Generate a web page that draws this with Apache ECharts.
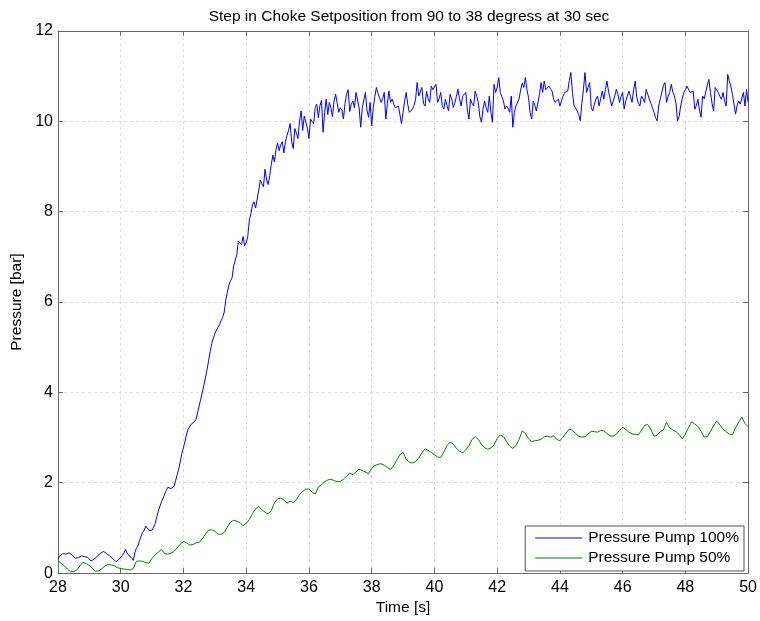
<!DOCTYPE html>
<html>
<head>
<meta charset="utf-8">
<script src="https://cdn.jsdelivr.net/npm/echarts@6/dist/echarts.min.js"></script>
<style>
  html, body { margin: 0; padding: 0; background: #fff; }
  #chart { width: 760px; height: 621px; }
</style>
</head>
<body>
<div id="chart"></div>
<script>
// Logged pressure after the choke step (time in seconds, pressure in bar)
const titleText = 'Step in Choke Setposition from 90 to 38 degress at 30 sec';
const xTicks = [28, 30, 32, 34, 36, 38, 40, 42, 44, 46, 48, 50];
const yTicks = [0, 2, 4, 6, 8, 10, 12];

// Pump at 100 %: sampled every 0.05 s from t = 28 s (one row per second)
const pump100Start = 28;
const pump100Step = 0.05;
const pump100 = [
  0.31,0.38,0.42,0.43,0.44,0.42,0.44,0.45,0.45,0.40,0.36,0.33,0.32,0.34,0.37,0.38,0.37,0.36,0.37,0.35,
  0.31,0.27,0.29,0.31,0.33,0.37,0.40,0.44,0.48,0.48,0.45,0.43,0.41,0.38,0.36,0.32,0.28,0.25,0.28,0.31,
  0.35,0.39,0.44,0.52,0.45,0.40,0.36,0.33,0.28,0.45,0.55,0.60,0.72,0.82,0.90,0.95,1.04,1.01,0.95,0.91,
  0.95,1.02,1.10,1.25,1.38,1.48,1.58,1.66,1.75,1.83,1.90,1.88,1.87,1.88,1.92,2.05,2.18,2.30,2.48,2.65,
  2.78,2.92,3.08,3.18,3.24,3.30,3.34,3.35,3.40,3.55,3.70,3.85,4.00,4.16,4.32,4.50,4.70,4.90,5.08,5.20,
  5.30,5.38,5.42,5.50,5.59,5.66,5.78,6.05,6.22,6.38,6.47,6.54,6.80,6.78,7.05,7.35,7.38,7.27,7.45,7.25,
  7.32,7.45,7.82,7.95,8.15,8.22,8.08,8.28,8.48,8.70,8.62,8.55,8.94,8.70,8.60,8.80,9.05,9.25,9.10,9.38,
  9.52,9.35,9.48,9.55,9.30,9.55,9.68,9.80,9.95,9.55,9.40,9.84,9.74,9.62,10.00,10.23,9.80,10.12,10.10,9.85,
  9.62,10.05,10.00,9.95,10.30,10.38,10.08,10.35,10.46,9.76,10.20,10.49,10.15,10.42,10.30,10.10,10.45,10.60,10.40,10.20,
  10.30,10.25,10.05,10.40,10.60,10.70,10.22,10.38,10.45,10.30,10.64,10.67,10.30,9.87,10.30,10.34,10.64,10.25,10.09,10.42,
  9.90,10.30,10.55,10.75,10.62,10.52,10.42,10.50,10.64,10.05,10.40,10.67,10.42,10.49,10.45,10.30,10.27,10.34,10.15,9.95,
  10.20,10.45,10.64,10.38,10.20,10.20,10.27,10.35,10.49,10.86,10.56,10.60,10.75,10.40,10.34,10.67,10.50,10.42,10.78,10.70,
  10.71,10.82,10.42,10.50,10.64,10.35,10.27,10.49,10.35,10.23,10.60,10.50,10.31,10.40,10.55,10.71,10.50,10.34,10.56,10.60,
  10.64,10.25,10.05,10.49,10.40,10.34,10.67,10.55,10.42,10.10,9.98,10.27,10.45,10.30,10.20,10.56,10.20,9.98,10.82,10.64,
  10.75,10.97,10.64,10.60,10.45,10.27,10.34,10.28,10.20,10.56,9.87,10.20,10.34,10.42,10.50,10.70,10.85,10.75,10.97,10.70,
  10.53,10.20,10.05,10.45,10.35,10.23,10.20,10.60,10.86,10.64,10.89,10.70,10.67,10.78,10.72,10.67,10.49,10.42,10.45,10.49,
  10.34,10.45,10.56,10.64,10.60,10.67,10.90,11.08,10.64,10.35,10.31,10.23,10.15,10.01,10.40,10.70,11.08,10.64,10.75,10.86,
  10.30,10.23,10.38,10.50,10.56,10.34,10.50,10.67,10.49,10.70,10.89,10.67,10.50,10.34,10.45,10.56,10.71,10.60,10.42,10.55,
  10.64,10.27,10.45,10.56,10.67,10.55,10.42,10.70,10.89,10.53,10.40,10.34,10.56,10.50,10.42,10.71,10.60,10.49,10.40,10.30,
  10.20,10.08,10.01,10.34,10.50,10.64,10.80,10.86,10.42,10.55,10.64,10.82,10.65,10.56,10.40,10.01,10.10,10.34,10.50,10.64,
  10.70,10.78,10.82,10.64,10.66,10.67,10.27,10.35,10.49,10.25,10.09,10.56,10.50,10.49,10.80,10.93,10.64,10.40,10.23,10.75,
  10.70,10.64,10.55,10.49,10.64,10.45,10.34,11.04,10.90,10.78,10.60,10.56,10.16,10.35,10.45,10.38,10.34,10.64,10.34,10.71,
  10.42
];

// Pump at 50 %: sampled every 0.1 s from t = 28 s (one row per second)
const pump50Start = 28;
const pump50Step = 0.1;
const pump50 = [
  0.27,0.22,0.16,0.09,0.03,0.03,0.07,0.16,0.24,0.21,
  0.17,0.10,0.04,0.05,0.10,0.16,0.19,0.18,0.16,0.12,
  0.10,0.09,0.08,0.07,0.10,0.26,0.27,0.26,0.23,0.22,
  0.33,0.40,0.47,0.52,0.43,0.42,0.44,0.48,0.56,0.64,
  0.70,0.67,0.62,0.63,0.67,0.68,0.76,0.86,0.95,0.96,
  0.93,0.86,0.86,0.90,1.02,1.13,1.17,1.15,1.12,1.05,
  1.10,1.19,1.32,1.42,1.48,1.40,1.35,1.31,1.38,1.56,
  1.64,1.66,1.62,1.55,1.59,1.56,1.62,1.74,1.81,1.86,
  1.86,1.79,1.75,1.90,1.96,2.02,2.06,2.08,2.05,2.02,
  2.03,2.08,2.14,2.21,2.18,2.24,2.30,2.27,2.24,2.20,
  2.33,2.38,2.41,2.42,2.39,2.34,2.29,2.38,2.50,2.62,
  2.67,2.52,2.45,2.44,2.47,2.54,2.66,2.75,2.72,2.67,
  2.62,2.57,2.56,2.68,2.82,2.90,2.86,2.76,2.70,2.66,
  2.73,2.82,2.96,3.02,2.96,2.85,2.78,2.74,2.77,2.84,
  2.98,3.06,3.02,2.91,2.81,2.76,2.82,2.96,3.15,3.09,
  2.97,2.91,2.93,2.94,2.96,3.02,3.03,3.01,3.04,2.96,
  2.93,3.01,3.10,3.19,3.16,3.09,3.03,3.01,3.02,3.08,
  3.14,3.13,3.12,3.16,3.15,3.09,3.04,3.03,3.08,3.16,
  3.23,3.18,3.12,3.08,3.07,3.06,3.16,3.27,3.29,3.18,
  3.03,3.05,3.13,3.17,3.34,3.21,3.17,3.13,3.07,2.97,
  3.08,3.22,3.35,3.30,3.25,3.14,3.01,3.02,3.14,3.26,
  3.37,3.28,3.19,3.13,3.08,3.06,3.22,3.34,3.45,3.31,
  3.24
];

const seriesNames = ['Pressure Pump 100%', 'Pressure Pump 50%'];
const seriesColors = ['#0000ff', '#008000'];

// pair each sample with its sample time
function toPairs(values, start, step) {
  return values.map((v, i) => [+(start + i * step).toFixed(3), v]);
}

const font = "'Liberation Sans', Arial, Helvetica, sans-serif";
const frameColor = '#6a6a6a';
const gridColor = '#dcdcdc';
const textSize = 15.5;
const tickSize = 16;

const chart = echarts.init(document.getElementById('chart'), null, { renderer: 'canvas' });

function xAxisCfg(pos, showLabels) {
  return {
    type: 'value', position: pos,
    min: xTicks[0], max: xTicks[xTicks.length - 1], interval: 2,
    axisLine: { show: true, onZero: false, lineStyle: { color: frameColor, width: 1 } },
    axisTick: { show: true, inside: true, length: 5, lineStyle: { color: frameColor } },
    axisLabel: { show: showLabels, color: '#000', fontSize: tickSize, fontFamily: font, margin: 6 },
    splitLine: { show: showLabels, lineStyle: { color: gridColor, type: [3, 3], width: 1 } },
    name: showLabels ? 'Time [s]' : '',
    nameLocation: 'middle', nameGap: 25,
    nameTextStyle: { color: '#000', fontSize: textSize, fontFamily: font }
  };
}
function yAxisCfg(pos, showLabels) {
  return {
    type: 'value', position: pos,
    min: yTicks[0], max: yTicks[yTicks.length - 1], interval: 2,
    axisLine: { show: true, onZero: false, lineStyle: { color: frameColor, width: 1 } },
    axisTick: { show: true, inside: true, length: 5, lineStyle: { color: frameColor } },
    axisLabel: { show: showLabels, color: '#000', fontSize: tickSize, fontFamily: font, margin: 5 },
    splitLine: { show: showLabels, lineStyle: { color: gridColor, type: [3, 3], width: 1 } },
    name: showLabels ? 'Pressure [bar]' : '',
    nameLocation: 'middle', nameGap: 30, nameRotate: 90,
    nameTextStyle: { color: '#000', fontSize: textSize, fontFamily: font }
  };
}

chart.setOption({
  animation: false,
  backgroundColor: '#fff',
  title: {
    text: titleText, left: 404, top: 4, textAlign: 'center',
    textStyle: { color: '#000', fontSize: textSize, fontWeight: 'normal', fontFamily: font }
  },
  grid: { left: 58, right: 10, top: 31, bottom: 43, containLabel: false },
  xAxis: [xAxisCfg('bottom', true), xAxisCfg('top', false)],
  yAxis: [yAxisCfg('left', true), yAxisCfg('right', false)],
  legend: {
    orient: 'vertical', right: 16, top: 526,
    backgroundColor: '#fff', borderColor: '#555', borderWidth: 1, borderRadius: 0,
    padding: [4, 5, 5, 10], itemGap: 4, itemWidth: 47, itemHeight: 16,
    textStyle: { color: '#000', fontSize: textSize, fontFamily: font, padding: [0, 0, 0, 1] },
    data: seriesNames.map(n => ({ name: n, icon: 'path://M0,0 H47 V1 H0 Z' }))
  },
  series: [
    {
      name: seriesNames[0], type: 'line', xAxisIndex: 0, yAxisIndex: 0,
      data: toPairs(pump100, pump100Start, pump100Step),
      showSymbol: false, symbol: 'none',
      lineStyle: { color: seriesColors[0], width: 1 },
      itemStyle: { color: seriesColors[0] }
    },
    {
      name: seriesNames[1], type: 'line', xAxisIndex: 0, yAxisIndex: 0,
      data: toPairs(pump50, pump50Start, pump50Step),
      showSymbol: false, symbol: 'none',
      lineStyle: { color: seriesColors[1], width: 1 },
      itemStyle: { color: seriesColors[1] }
    }
  ]
});
</script>
</body>
</html>
